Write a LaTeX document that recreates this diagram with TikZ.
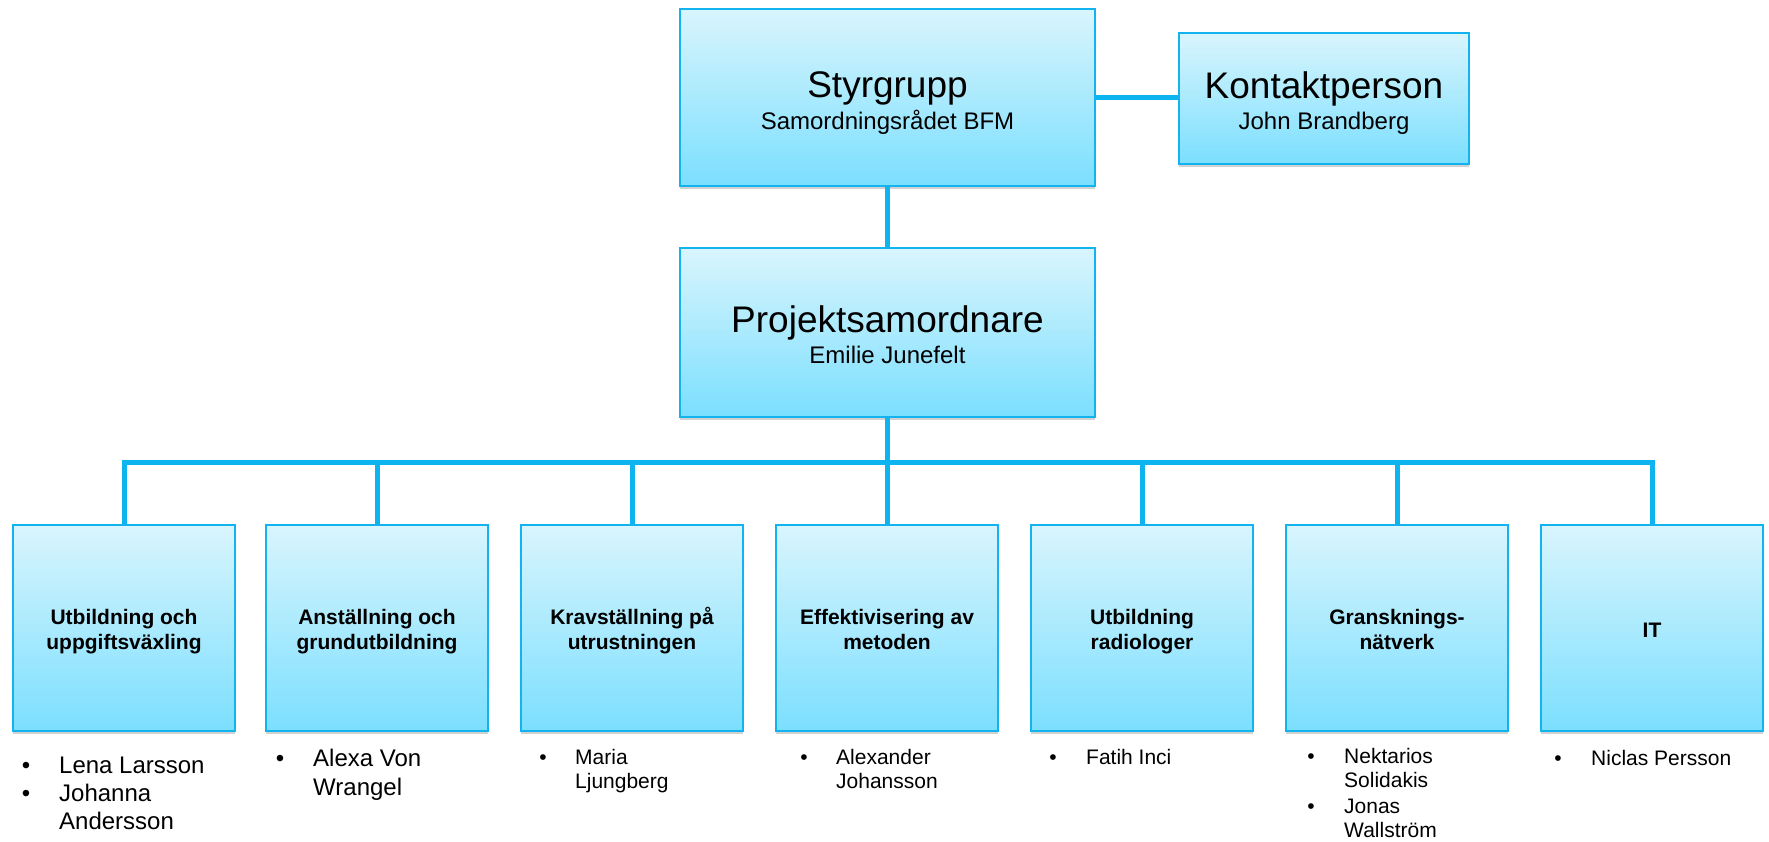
\documentclass[tikz,border=0pt]{standalone}
\usepackage{fontspec}
\setmainfont{Liberation Sans}
\usetikzlibrary{shadows}
\definecolor{bord}{HTML}{12B3EE}
\definecolor{conn}{HTML}{0DB4F0}
\definecolor{gtop}{HTML}{D9F5FD}
\definecolor{gbot}{HTML}{7BDFFE}
\tikzset{
  orgbox/.style={rectangle, draw=bord, line width=2pt, top color=gtop, bottom color=gbot,
    inner sep=0pt, minimum width=#1, drop shadow={shadow xshift=0pt, shadow yshift=-3pt, opacity=0.18, fill=black}},
  lnk/.style={draw=conn, line width=5pt, line join=miter},
  bigt/.style={anchor=base, inner sep=0pt, font=\fontsize{37}{44}\selectfont},
  subt/.style={anchor=base, inner sep=0pt, font=\fontsize{24}{28}\selectfont},
  headt/.style={anchor=base, inner sep=0pt, font=\fontsize{21}{25}\selectfont\bfseries},
  bulA/.style={anchor=base, inner sep=0pt, font=\fontsize{24}{28}\selectfont},
  itemA/.style={anchor=base west, inner sep=0pt, font=\fontsize{24}{28}\selectfont},
  bulB/.style={anchor=base, inner sep=0pt, font=\fontsize{21}{24}\selectfont},
  itemB/.style={anchor=base west, inner sep=0pt, font=\fontsize{21}{24}\selectfont},
}
\begin{document}
\begin{tikzpicture}[x=1pt, y=-1pt]
\useasboundingbox (0,0) rectangle (1769,841);
% top boxes
\node[orgbox=415pt, minimum height=177pt] (styr) at (887.5,97.5) {};
\node[orgbox=290pt, minimum height=131pt] (kont) at (1324,98.5) {};
\node[orgbox=415pt, minimum height=169pt] (proj) at (887.5,332.5) {};
% bottom boxes
\foreach \i/\x in {1/124,2/377,3/632,4/887,5/1142,6/1397,7/1652}{
  \node[orgbox=222pt, minimum height=206pt] (b\i) at (\x,628) {};
}
% connectors
\draw[lnk] (styr.east) -- (styr.east -| kont.west);
\draw[lnk] (styr.south) -- (proj.north);
\coordinate (bus) at (887.5,462);
\draw[lnk] (proj.south) -- (bus);
\draw[lnk] (b1.north) |- (bus) -| (b7.north);
\foreach \i in {2,3,4,5,6}{
  \draw[lnk] (b\i.north) -- (b\i.north |- bus);
}
% top texts
\node[bigt] (styrT) at (887.5,97) {Styrgrupp};
\node[subt] (styrS) at (887.5,129) {Samordningsrådet BFM};
\node[bigt] (kontT) at (1324,98) {Kontaktperson};
\node[subt] (kontS) at (1324,129) {John Brandberg};
\node[bigt] (projT) at (887.5,332) {Projektsamordnare};
\node[subt] (projS) at (887.5,363) {Emilie Junefelt};
% bottom headings
\node[headt] (h1a) at (124,624) {Utbildning och};
\node[headt] (h1b) at (124,649) {uppgiftsväxling};
\node[headt] (h2a) at (377,624) {Anställning och};
\node[headt] (h2b) at (377,649) {grundutbildning};
\node[headt] (h3a) at (632,624) {Kravställning på};
\node[headt] (h3b) at (632,649) {utrustningen};
\node[headt] (h4a) at (887,624) {Effektivisering av};
\node[headt] (h4b) at (887,649) {metoden};
\node[headt] (h5a) at (1142,624) {Utbildning};
\node[headt] (h5b) at (1142,649) {radiologer};
\node[headt] (h6a) at (1397,624) {Gransknings-};
\node[headt] (h6b) at (1397,649) {nätverk};
\node[headt] (h7a) at (1652,637) {IT};
% lists
\node[bulA] (p1a) at (26,773) {•};
\node[itemA] (n1a) at (59,773) {Lena Larsson};
\node[bulA] (p1b) at (26,801) {•};
\node[itemA] (n1b) at (59,801) {Johanna};
\node[itemA] (n1c) at (59,829) {Andersson};
\node[bulA] (p2a) at (280,766) {•};
\node[itemA] (n2a) at (313,766) {Alexa Von};
\node[itemA] (n2b) at (313,795) {Wrangel};
\node[bulB] (p3a) at (543,764) {•};
\node[itemB] (n3a) at (575,764) {Maria};
\node[itemB] (n3b) at (575,788) {Ljungberg};
\node[bulB] (p4a) at (804,764) {•};
\node[itemB] (n4a) at (836,764) {Alexander};
\node[itemB] (n4b) at (836,788) {Johansson};
\node[bulB] (p5a) at (1053,764) {•};
\node[itemB] (n5a) at (1086,764) {Fatih Inci};
\node[bulB] (p6a) at (1311,763) {•};
\node[itemB] (n6a) at (1344,763) {Nektarios};
\node[itemB] (n6b) at (1344,787) {Solidakis};
\node[bulB] (p6b) at (1311,813) {•};
\node[itemB] (n6c) at (1344,813) {Jonas};
\node[itemB] (n6d) at (1344,837) {Wallström};
\node[bulB] (p7a) at (1558,765) {•};
\node[itemB] (n7a) at (1591,765) {Niclas Persson};
\end{tikzpicture}
\end{document}
